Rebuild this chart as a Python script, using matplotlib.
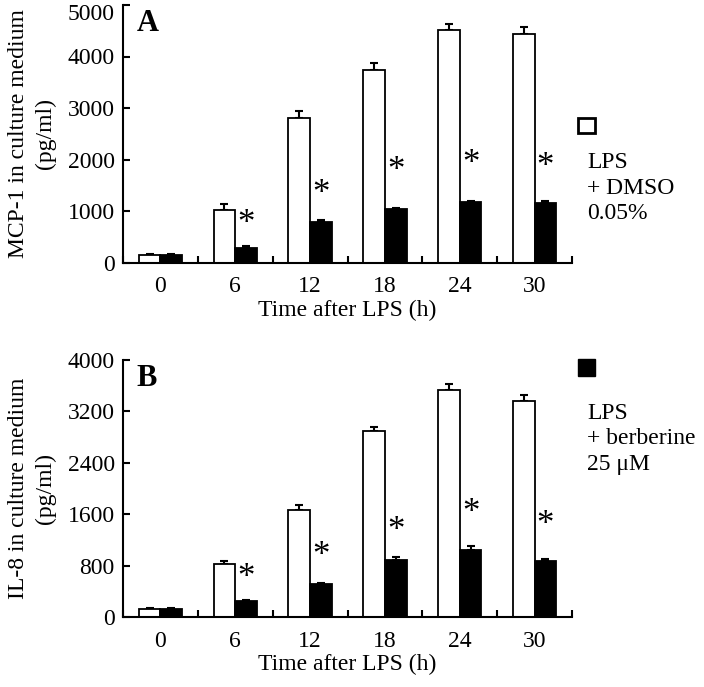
import numpy as np
import matplotlib.pyplot as plt
from matplotlib.transforms import ScaledTranslation

plt.rcParams["font.family"] = ["Liberation Serif", "DejaVu Serif"]

times = ["0", "6", "12", "18", "24", "30"]

# panel A, MCP-1 (pg/ml)
mcp_dmso = [150, 1020, 2800, 3740, 4510, 4430]
mcp_dmso_err = [20, 110, 140, 140, 130, 150]
mcp_berb = [140, 290, 780, 1030, 1170, 1160]
mcp_berb_err = [20, 30, 50, 30, 30, 40]
mcp_star_y = [None, 740, 1330, 1760, 1910, 1850]

# panel B, IL-8 (pg/ml)
il8_dmso = [130, 830, 1660, 2890, 3530, 3360]
il8_dmso_err = [15, 40, 90, 60, 100, 100]
il8_berb = [125, 255, 510, 885, 1050, 865]
il8_berb_err = [10, 10, 20, 45, 60, 35]
il8_star_y = [None, 600, 945, 1325, 1610, 1430]

W, H = 704, 687
fig = plt.figure(figsize=(W / 100, H / 100), dpi=100)


def axes_px(left, right, top, bottom):
    return fig.add_axes([left / W, 1 - bottom / H, (right - left) / W, (bottom - top) / H])


def draw_panel(ax, dmso, dmso_err, berb, berb_err, star_y, ymax, yticks, ylabel, letter, shift_top):
    x = np.arange(len(times))
    bw = 0.29
    ax.bar(x - bw / 2, dmso, bw, color="white", edgecolor="black", linewidth=1.3, zorder=2)
    ax.bar(x + bw / 2, berb, bw, color="black", edgecolor="black", linewidth=1.3, zorder=2)
    ax.errorbar(x - bw / 2, dmso, yerr=[np.zeros(len(x)), dmso_err], fmt="none",
                ecolor="black", elinewidth=1.5, capsize=3, capthick=1.5, zorder=1)
    ax.errorbar(x + bw / 2, berb, yerr=[np.zeros(len(x)), berb_err], fmt="none",
                ecolor="black", elinewidth=1.5, capsize=3, capthick=1.5, zorder=1)
    for i, sy in enumerate(star_y):
        if sy is not None:
            ax.text(x[i] + bw / 2, sy, "*", ha="center", va="center", fontsize=25)
    ax.set_xlim(-0.5, len(times) - 0.5)
    ax.set_ylim(0, ymax)
    ax.set_yticks(yticks)
    ax.set_xticks(np.arange(len(times) + 1) - 0.5)
    ax.set_xticklabels([])
    ax.set_xticks(x, minor=True)
    ax.set_xticklabels(times, minor=True)
    ax.tick_params(axis="x", which="minor", length=0, labelsize=17, pad=10)
    ax.tick_params(axis="x", which="major", direction="in", length=5, width=1.5)
    ax.tick_params(axis="y", direction="in", length=5, width=1.5, labelsize=17, pad=6)
    for s in ["top", "right"]:
        ax.spines[s].set_visible(False)
    for s in ["left", "bottom"]:
        ax.spines[s].set_linewidth(1.5)
    ax.set_ylabel(ylabel, fontsize=17, linespacing=1.4, labelpad=8)
    ax.set_xlabel("Time after LPS (h)", fontsize=17, labelpad=1.5)
    ax.text(0.03, 0.985, letter, transform=ax.transAxes, ha="left", va="top",
            fontsize=22, fontweight="bold")
    if shift_top:
        fig.canvas.draw()
        lab = ax.get_yticklabels()[-1]
        lab.set_transform(lab.get_transform() + ScaledTranslation(0, -5 / 72, fig.dpi_scale_trans))


axA = axes_px(123, 572, 5, 262.5)
draw_panel(axA, mcp_dmso, mcp_dmso_err, mcp_berb, mcp_berb_err, mcp_star_y,
           5000, [0, 1000, 2000, 3000, 4000, 5000],
           "MCP-1 in culture medium\n(pg/ml)", "A", True)

axB = axes_px(123, 572, 360, 617)
draw_panel(axB, il8_dmso, il8_dmso_err, il8_berb, il8_berb_err, il8_star_y,
           4000, [0, 800, 1600, 2400, 3200, 4000],
           "IL-8 in culture medium\n(pg/ml)", "B", False)

# legend drawn by hand at the right
fig.patches.append(plt.Rectangle((578 / W, 1 - 133 / H), 17 / W, 15 / H, transform=fig.transFigure,
                                 facecolor="white", edgecolor="black", linewidth=2))
fig.text(587 / W, 1 - 188 / H, "LPS\n+ DMSO\n0.05%", ha="left", va="center",
         fontsize=17, linespacing=1.3)
fig.patches.append(plt.Rectangle((578 / W, 1 - 376 / H), 17 / W, 17 / H, transform=fig.transFigure,
                                 facecolor="black", edgecolor="black", linewidth=1))
fig.text(587 / W, 1 - 439 / H, "LPS\n+ berberine\n25 μM", ha="left", va="center",
         fontsize=17, linespacing=1.3)

fig.savefig("out.png", dpi=100)
